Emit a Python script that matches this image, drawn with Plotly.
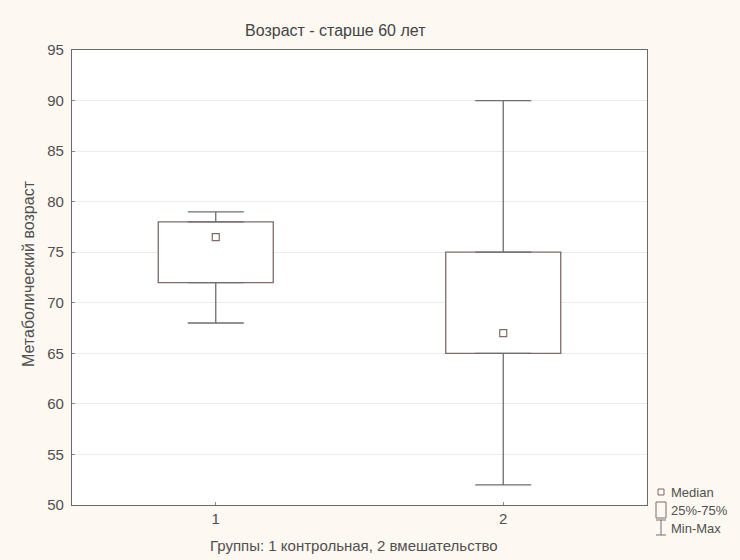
import plotly.graph_objects as go

groups = [1, 2]
mins = [68, 52]
q1s = [72, 65]
medians = [76.5, 67]
q3s = [78, 75]
maxs = [79, 90]

title = "Возраст - старше 60 лет"
x_title = "Группы: 1 контрольная, 2 вмешательство"
y_title = "Метаболический возраст"
legend_labels = ["Median", "25%-75%", "Min-Max"]

box_col = "#7d6b6b"
whisk_col = "#6e6e6e"
font_fam = "Liberation Sans, Arial, sans-serif"
txt_col = "#505050"

fig = go.Figure()

# whiskers (upper and lower) via error bars
fig.add_trace(go.Scatter(
    x=groups, y=q3s, mode="markers", marker=dict(size=0.1, color="rgba(0,0,0,0)"),
    error_y=dict(type="data", symmetric=False,
                 array=[mx - q for mx, q in zip(maxs, q3s)],
                 arrayminus=[0, 0], width=28, thickness=1.3, color=whisk_col),
    hoverinfo="skip", showlegend=False))
fig.add_trace(go.Scatter(
    x=groups, y=q1s, mode="markers", marker=dict(size=0.1, color="rgba(0,0,0,0)"),
    error_y=dict(type="data", symmetric=False,
                 array=[0, 0],
                 arrayminus=[q - mn for q, mn in zip(q1s, mins)],
                 width=28, thickness=1.3, color=whisk_col),
    hoverinfo="skip", showlegend=False))

# boxes (25%-75%)
fig.add_trace(go.Bar(
    x=groups, y=[b - a for a, b in zip(q1s, q3s)], base=q1s, width=0.4,
    marker=dict(color="white", line=dict(color=box_col, width=1.3)),
    showlegend=False, hoverinfo="skip"))

# medians
fig.add_trace(go.Scatter(
    x=groups, y=medians, mode="markers",
    marker=dict(symbol="square-open", size=7, color=box_col, line=dict(width=1.2)),
    showlegend=False, hoverinfo="skip"))

L, R, T, B = 72, 93, 50, 55
W, H = 740, 560
pw, ph = W - L - R, H - T - B

def px(x):
    return (x - L) / pw

def py(y):
    return (H - B - y) / ph

fig.update_layout(
    width=W, height=H,
    margin=dict(l=L, r=R, t=T, b=B),
    paper_bgcolor="#fdf8f1",
    plot_bgcolor="white",
    font=dict(family=font_fam, size=15, color=txt_col),
    barmode="overlay",
    xaxis=dict(range=[0.5, 2.5], tickvals=groups, ticktext=[str(g) for g in groups],
               showgrid=False, zeroline=False, showline=True, linecolor="#6a6a6a",
               linewidth=1.2, mirror=True, ticks="inside", ticklen=3, tickcolor="#888",
               tickfont=dict(size=15, color=txt_col)),
    yaxis=dict(range=[50, 95], dtick=5, showgrid=True, gridcolor="#ebebeb", gridwidth=1,
               zeroline=False, showline=True, linecolor="#6a6a6a", linewidth=1.2,
               mirror=True, ticks="inside", ticklen=3, tickcolor="#888",
               ticklabelstandoff=4,
               tickfont=dict(size=15, color=txt_col)),
    showlegend=False,
)

fig.add_annotation(text=title, xref="paper", yref="paper",
                   x=px(335), y=py(31), xanchor="center", yanchor="middle",
                   showarrow=False, font=dict(size=16, color="#444"))
fig.add_annotation(text=x_title, xref="paper", yref="paper",
                   x=px(354), y=py(545), xanchor="center", yanchor="middle",
                   showarrow=False, font=dict(size=15, color=txt_col))
fig.add_annotation(text=y_title, xref="paper", yref="paper", textangle=-90,
                   x=px(28), y=py(274), xanchor="center", yanchor="middle",
                   showarrow=False, font=dict(size=16, color=txt_col))

# custom legend (bottom right, outside plot)
lx_text = 669
rows = [492, 510, 528]
for lab, ry in zip(legend_labels, rows):
    fig.add_annotation(text=lab, xref="paper", yref="paper", x=px(lx_text), y=py(ry),
                       xanchor="left", yanchor="middle", showarrow=False,
                       font=dict(size=13, color=txt_col))
# icons
fig.add_shape(type="rect", xref="paper", yref="paper",
              x0=px(658), x1=px(664), y0=py(495), y1=py(489),
              line=dict(color=box_col, width=1))
fig.add_shape(type="rect", xref="paper", yref="paper",
              x0=px(656), x1=px(666), y0=py(518), y1=py(502),
              line=dict(color=box_col, width=1))
fig.add_shape(type="line", xref="paper", yref="paper",
              x0=px(661), x1=px(661), y0=py(535), y1=py(520),
              line=dict(color=whisk_col, width=1))
fig.add_shape(type="line", xref="paper", yref="paper",
              x0=px(656), x1=px(666), y0=py(535), y1=py(535),
              line=dict(color=whisk_col, width=1))
fig.add_shape(type="line", xref="paper", yref="paper",
              x0=px(656), x1=px(666), y0=py(520), y1=py(520),
              line=dict(color=whisk_col, width=1))

fig.write_html("out.html")
